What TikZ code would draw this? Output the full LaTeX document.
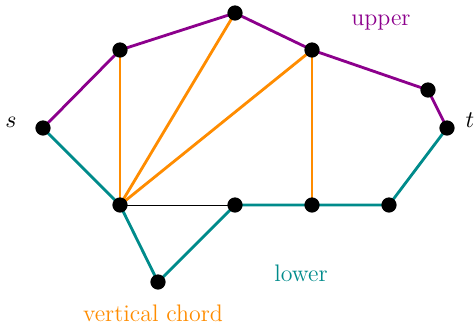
\documentclass[tikz,border=0pt]{standalone}
\usetikzlibrary{backgrounds}
\definecolor{up}{RGB}{140,0,140}
\definecolor{lo}{RGB}{0,139,139}
\definecolor{ch}{RGB}{255,140,0}
\begin{document}
\begin{tikzpicture}[x=0.46pt,y=-0.46pt,
  dot/.style={circle,fill=black,inner sep=0pt,minimum size=7pt},
  lbl/.style={font=\fontsize{11}{13}\selectfont},
  upe/.style={draw=up,line width=1.3pt},
  loe/.style={draw=lo,line width=1.3pt},
  che/.style={draw=ch,line width=1.3pt},
  thin edge/.style={draw=black,line width=0.4pt}]
\useasboundingbox (0,0) rectangle (475,323);
\node[dot] (s) at (43,128) {};
\node[dot] (a) at (120,50) {};
\node[dot] (b) at (235,13) {};
\node[dot] (c) at (312,50) {};
\node[dot] (d) at (428,90) {};
\node[dot] (t) at (447,128) {};
\node[dot] (e) at (120,205) {};
\node[dot] (f) at (235,205) {};
\node[dot] (g) at (312,205) {};
\node[dot] (h) at (389,205) {};
\node[dot] (k) at (158,282) {};
\begin{scope}[on background layer]
\path[thin edge] (e.center) -- (f.center);
\path[che] (a.center) -- (e.center);
\path[che] (b.center) -- (e.center);
\path[che] (c.center) -- (e.center);
\path[che] (c.center) -- (g.center);
\path[upe] (s.center) -- (a.center) -- (b.center) -- (c.center) -- (d.center) -- (t.center);
\path[loe] (s.center) -- (e.center) -- (k.center) -- (f.center) -- (g.center) -- (h.center) -- (t.center);
\end{scope}
\node[lbl] (sl) at (11,122) {$s$};
\node[lbl] (tl) at (470,120) {$t$};
\node[lbl,text=up] (ul) at (381,22) {upper};
\node[lbl,text=lo] (ll) at (301,273) {lower};
\node[lbl,text=ch] (cl) at (153,313) {vertical chord};
\end{tikzpicture}
\end{document}
